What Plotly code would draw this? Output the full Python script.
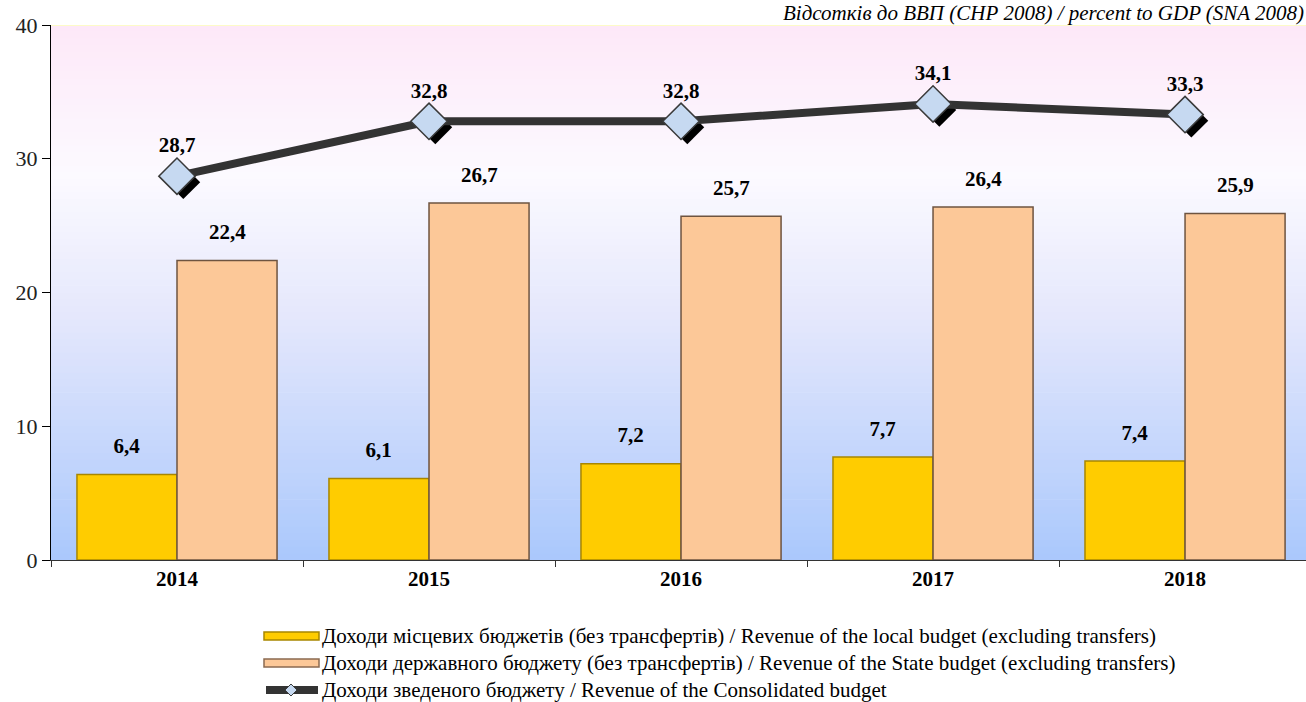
import plotly.graph_objects as go

years = ["2014", "2015", "2016", "2017", "2018"]
local_budget = [6.4, 6.1, 7.2, 7.7, 7.4]
state_budget = [22.4, 26.7, 25.7, 26.4, 25.9]
consolidated = [28.7, 32.8, 32.8, 34.1, 33.3]

name_local = "Доходи місцевих бюджетів (без трансфертів) / Revenue of the local budget (excluding transfers)"
name_state = "Доходи державного бюджету (без трансфертів) / Revenue of the State budget (excluding transfers)"
name_cons = "Доходи зведеного бюджету / Revenue of the Consolidated budget"
subtitle = "Відсотків до ВВП (СНР 2008) / percent to GDP (SNA 2008)"

serif = "Liberation Serif"
label_font = dict(family=serif, size=21, color="black", weight="bold")

fig = go.Figure()

fig.add_trace(go.Bar(
    x=years, y=local_budget, name=name_local,
    marker=dict(color="#ffcc00", line=dict(color="#a88600", width=1.5)),
))
fig.add_trace(go.Bar(
    x=years, y=state_budget, name=name_state,
    marker=dict(color="#fcc898", line=dict(color="#6e5440", width=1.5)),
))

# bar value labels (invisible markers push the text up a bit)
idx = list(range(len(years)))
fig.add_trace(go.Scatter(
    x=[i - 0.2 for i in idx], y=local_budget, mode="markers+text", showlegend=False,
    hoverinfo="skip", marker=dict(size=24, opacity=0), xaxis="x2",
    texttemplate="%{y:.1f}", textposition="top center", textfont=label_font, cliponaxis=False,
))
fig.add_trace(go.Scatter(
    x=[i + 0.2 for i in idx], y=state_budget, mode="markers+text", showlegend=False,
    hoverinfo="skip", marker=dict(size=24, opacity=0), xaxis="x2",
    texttemplate="%{y:.1f}", textposition="top center", textfont=label_font, cliponaxis=False,
))

# shadow under the diamonds
fig.add_trace(go.Scatter(
    x=[i + 0.025 for i in idx], y=[v - 0.45 for v in consolidated],
    mode="markers", showlegend=False, hoverinfo="skip",
    marker=dict(symbol="diamond", size=26, color="black"),
    xaxis="x2",
))
fig.add_trace(go.Scatter(
    x=idx, y=consolidated, name=name_cons,
    mode="lines+markers+text",
    line=dict(color="#333333", width=8),
    marker=dict(symbol="diamond", size=28, color="#c6d9f1",
                line=dict(color="#3a3a3a", width=1.5)),
    texttemplate="%{y:.1f}", textposition="top center", textfont=label_font,
    xaxis="x2", cliponaxis=False,
))

# vertical background gradient
stops = [(0.0, (170, 200, 252)), (0.45, (228, 231, 252)), (0.72, (252, 250, 255)), (1.0, (253, 232, 248))]
def bg(t):
    for (t0, c0), (t1, c1) in zip(stops[:-1], stops[1:]):
        if t0 <= t <= t1:
            f = (t - t0) / (t1 - t0)
            return "rgb(%d,%d,%d)" % tuple(round(a + (b - a) * f) for a, b in zip(c0, c1))
    return "rgb(%d,%d,%d)" % stops[-1][1]

n = 80
shapes = []
for k in range(n):
    shapes.append(dict(type="rect", xref="paper", yref="y", layer="below",
                       x0=0, x1=1, y0=40 * k / n, y1=40 * (k + 1) / n + 0.05,
                       fillcolor=bg((k + 0.5) / n), line=dict(width=0)))
shapes.append(dict(type="line", xref="paper", yref="y", x0=0, x1=1, y0=40, y1=40,
                   line=dict(color="#fdfbc8", width=2), layer="below"))

# hand-made legend below the plot (wide swatches like the original)
W, H, T, B = 1306, 702, 25, 142
ph = H - T - B
def py(pix):  # page pixel y -> paper y
    return (H - B - pix) / ph
def px(pix):
    return (pix - 51) / (W - 51)

legend_rows = [(636, name_local, "#ffcc00", "#a88600"),
               (663, name_state, "#fcc898", "#8a6a50"),
               (690, name_cons, None, None)]
annotations = []
for yy, label, fill, edge in legend_rows:
    if fill:
        shapes.append(dict(type="rect", xref="paper", yref="paper",
                           x0=px(264), x1=px(319), y0=py(yy + 4), y1=py(yy - 4),
                           fillcolor=fill, line=dict(color=edge, width=1.5)))
    else:
        shapes.append(dict(type="line", xref="paper", yref="paper",
                           x0=px(266), x1=px(318), y0=py(yy), y1=py(yy),
                           line=dict(color="#333333", width=8)))
        shapes.append(dict(type="path", xref="paper", yref="paper",
                           path="M %f,%f L %f,%f L %f,%f L %f,%f Z" % (
                               px(285), py(yy), px(291), py(yy - 6),
                               px(297), py(yy), px(291), py(yy + 6)),
                           fillcolor="#c6d9f1", line=dict(color="#3a3a3a", width=1)))
    annotations.append(dict(text=label, xref="paper", yref="paper", x=px(320), y=py(yy),
                            xanchor="left", yanchor="middle", showarrow=False,
                            font=dict(family=serif, size=21, color="black")))

annotations.append(dict(text="<i>" + subtitle + "</i>", xref="paper", yref="paper",
                        x=1.0, xanchor="right", y=py(-1), yanchor="top",
                        showarrow=False, font=dict(family=serif, size=21, color="black")))

fig.update_layout(
    width=W, height=H,
    margin=dict(l=51, r=0, t=T, b=B, autoexpand=False),
    paper_bgcolor="white", plot_bgcolor="white",
    barmode="group", bargap=0.206, bargroupgap=0,
    separators=", ",
    shapes=shapes,
    annotations=annotations,
    showlegend=False,
    xaxis=dict(range=[-0.5, 4.48], type="category", showline=True, linecolor="#333",
               linewidth=1, ticks="outside", tickson="boundaries", ticklen=6,
               tickcolor="#333", showgrid=False, automargin=False,
               tickfont=dict(family=serif, size=21, color="black", weight="bold")),
    xaxis2=dict(range=[-0.5, 4.48], overlaying="x", visible=False),
    yaxis=dict(range=[0, 40], dtick=10, showline=True, linecolor="black", linewidth=1,
               ticks="outside", ticklen=8, tickcolor="black", showgrid=False,
               zeroline=False, automargin=False,
               tickfont=dict(family=serif, size=22, color="#222")),
)

# the page body has an 8px default margin; drop it so the figure fills the window
fig.write_html("out.html", config={"displayModeBar": False},
               post_script="document.body.style.margin='0';")
